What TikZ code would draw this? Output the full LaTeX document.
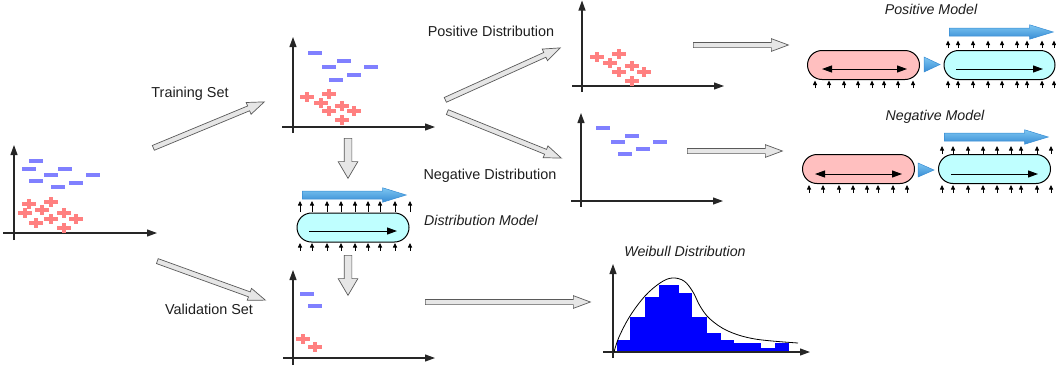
\documentclass[tikz,border=0pt]{standalone}
\usepackage{fontspec}
\setmainfont{Liberation Sans}
\usetikzlibrary{arrows.meta,shapes.arrows,shapes.misc,calc}
\definecolor{barblue}{RGB}{128,128,255}
\definecolor{plusred}{RGB}{255,128,128}
\definecolor{capcyan}{RGB}{191,255,255}
\definecolor{cappink}{RGB}{255,191,191}
\definecolor{arrblueL}{RGB}{125,198,242}
\definecolor{arrblueD}{RGB}{55,140,212}
\definecolor{blkfill}{RGB}{230,230,230}
\definecolor{blkdraw}{RGB}{90,90,90}
\definecolor{txt}{RGB}{30,30,30}
\tikzset{
 plotaxis/.style={draw=black!85, line width=1.1pt, -{Triangle[length=10pt,width=7pt]}},
 lbl/.style={font=\fontsize{14.4}{16}\selectfont, text=txt, inner sep=0pt},
 ilbl/.style={font=\fontsize{14.2}{16}\selectfont\itshape, text=txt, inner sep=0pt},
 blkthin/.style={single arrow, draw=blkdraw, fill=blkfill, line width=0.7pt, inner sep=0pt,
   text height=2.25pt, text depth=2.25pt, single arrow head extend=3.75pt, single arrow tip angle=41},
 blkfat/.style={single arrow, draw=blkdraw, fill=blkfill, line width=0.7pt, inner sep=0pt,
   text height=3.5pt, text depth=3.5pt, single arrow head extend=6pt, single arrow tip angle=61},
 blkblue/.style={single arrow, draw=arrblueD, top color=arrblueL, bottom color=arrblueD, line width=0.5pt, inner sep=0pt,
   text height=3.75pt, text depth=3.75pt, single arrow head extend=3.25pt, single arrow tip angle=34},
 capsule/.style={rounded rectangle, draw=black, line width=1pt, minimum width=112pt, minimum height=29pt, inner sep=0pt},
 inarr/.style={line width=1pt, -{Triangle[length=10pt,width=7pt]}},
 inarrtwo/.style={line width=1pt, {Triangle[length=10pt,width=7pt]}-{Triangle[length=10pt,width=7pt]}},
 uptick/.style={line width=0.8pt, -{Triangle[length=4.5pt,width=4pt]}},
 tri/.style={draw=arrblueD, top color=arrblueL, bottom color=arrblueD, line width=0.5pt},
 pminus/.pic={\fill[barblue] (-7,-2) rectangle (7,2);},
 pplus/.pic={\fill[plusred] (-7,-2.2) rectangle (7,2.2); \fill[plusred] (-2.2,-5.2) rectangle (2.2,5.2);},
}
\newcommand\blk[3]{\path let \p1=($(#3)-(#2)$), \n1={atan2(\y1,\x1)}, \n2={veclen(\x1,\y1)} in
  node[#1, anchor=tail, minimum height=\n2, rotate=\n1] at (#2) {};}
\begin{document}
\begin{tikzpicture}[x=1pt,y=-1pt]
\useasboundingbox (0,0) rectangle (1056,370);
% ---------- plot 1 (all data)
\draw[plotaxis] (3,233) -- (157,233);
\draw[plotaxis] (14,240) -- (14,145);
\foreach \x/\y in {36/161,29/169,65/169,51/175,93/175,36/181,76/183,58/187} \pic at (\x,\y) {pminus};
\foreach \x/\y in {29/204,51/202,25/213,42/210,64/213,36/223,51/219,76/219,64/228} \pic at (\x,\y) {pplus};
% ---------- plot 2 (training)
\draw[plotaxis] (282,127) -- (435,127);
\draw[plotaxis] (293,133) -- (293,37);
\foreach \x/\y in {315/53,329/67,344/61,371/67,354/75,336/80} \pic at (\x,\y) {pminus};
\foreach \x/\y in {307/97,329/94,321/103,342/106,329/111,354/111,342/120} \pic at (\x,\y) {pplus};
% ---------- positive plot
\draw[plotaxis] (572,86) -- (724,86);
\draw[plotaxis] (582,92) -- (582,0.5);
\foreach \x/\y in {597/57,619/54,610/63,632/66,619/72,644/72,632/81} \pic at (\x,\y) {pplus};
% ---------- negative plot
\draw[plotaxis] (571,201) -- (723,201);
\draw[plotaxis] (581,207) -- (581,113);
\foreach \x/\y in {603/128,632/136,618/142,660/142,643/149,625/154} \pic at (\x,\y) {pminus};
% ---------- validation plot
\draw[plotaxis] (283,358) -- (435,358);
\draw[plotaxis] (293,365) -- (293,270);
\foreach \x/\y in {307/294,315/306} \pic at (\x,\y) {pminus};
\foreach \x/\y in {303/339,315/347} \pic at (\x,\y) {pplus};
% ---------- weibull plot
\foreach \a/\b/\t in {617/630/340,630/645/317,645/659/297,659/679/285,679/692/293,692/707/317,707/721/333,721/734/340,734/761/343,761/775/348,775/789/343}
  \fill[blue] (\a,351.5) rectangle (\b,\t);
\draw[plotaxis] (603,352) -- (810,352);
\draw[plotaxis] (613,358) -- (613,264);
\draw[line width=0.8pt] plot[smooth,tension=0.6] coordinates {(614,352) (619,337) (630,316) (645,296) (660,283) (672,278) (684,281) (693,292) (700,306) (710,319) (728,331) (755,339) (798,343)};
% ---------- labels
\node[lbl] (trainlbl) at (190,94) {Training Set};
\node[lbl] (vallbl) at (209,309) {Validation Set};
\node[lbl] (poslbl) at (491,31) {Positive Distribution};
\node[lbl] (neglbl) at (490,176) {Negative Distribution};
\node[ilbl] (dmlbl) at (481,220) {Distribution Model};
\node[ilbl] (wblbl) at (685,251) {Weibull Distribution};
\node[ilbl] (pmlbl) at (931,9) {Positive Model};
\node[ilbl] (nmlbl) at (935,117) {Negative Model};
% ---------- block arrows
\coordinate (trainA) at (153,148); \coordinate (trainB) at (264,102);
\coordinate (valA) at (157,261);   \coordinate (valB) at (265,300);
\coordinate (posA) at (445,100);   \coordinate (posB) at (560,48);
\coordinate (negA) at (447,112);   \coordinate (negB) at (561,158);
\coordinate (dnA) at (348,138);    \coordinate (dnB) at (348,178);
\coordinate (dn2A) at (348,255);   \coordinate (dn2B) at (348,295);
\coordinate (wbA) at (425,302);    \coordinate (wbB) at (590,302);
\coordinate (pmA) at (693,45);     \coordinate (pmB) at (788,45);
\coordinate (nmA) at (687,151);    \coordinate (nmB) at (782,151);
\blk{blkthin}{trainA}{trainB}
\blk{blkthin}{valA}{valB}
\blk{blkthin}{posA}{posB}
\blk{blkthin}{negA}{negB}
\blk{blkfat}{dnA}{dnB}
\blk{blkfat}{dn2A}{dn2B}
\blk{blkthin}{wbA}{wbB}
\blk{blkthin}{pmA}{pmB}
\blk{blkthin}{nmA}{nmB}
% ---------- distribution model
\node[capsule, fill=capcyan] (dm) at (353,227.5) {};
\coordinate (dmL) at (309,231); \coordinate (dmR) at (397,231);
\draw[inarr] (dmL) -- (dmR);
\coordinate (dmbA) at (302,195); \coordinate (dmbB) at (406,195);
\blk{blkblue}{dmbA}{dmbB}
\foreach \x in {300,312,327,341,355,368,380,395,410} {
  \draw[uptick] (\x,212) -- (\x,201);
  \draw[uptick] (\x,250.5) -- (\x,243);
}
% ---------- positive model
\node[capsule, fill=cappink] (pmp) at (863.5,65) {};
\node[capsule, fill=capcyan, minimum width=111pt] (pmc) at (999.5,65) {};
\coordinate (pmpL) at (822,69); \coordinate (pmpR) at (907,69);
\draw[inarrtwo] (pmpL) -- (pmpR);
\coordinate (pmcL) at (956,69); \coordinate (pmcR) at (1043,69);
\draw[inarr] (pmcL) -- (pmcR);
\path[tri] (924,57) -- (940,64.5) -- (924,72) -- cycle;
\coordinate (pmbA) at (949,32); \coordinate (pmbB) at (1053,32);
\blk{blkblue}{pmbA}{pmbB}
\foreach \x in {815,829,844,858,872,884,898,913} \draw[uptick] (\x,88) -- (\x,80.5);
\foreach \x in {948,958,973,988,1002,1017,1027,1042,1054} {
  \draw[uptick] (\x,47.5) -- (\x,40.5);
  \draw[uptick] (\x,88) -- (\x,80.5);
}
% ---------- negative model
\node[capsule, fill=cappink] (nmp) at (858.5,169) {};
\node[capsule, fill=capcyan] (nmc) at (994.5,169) {};
\coordinate (nmpL) at (815,174); \coordinate (nmpR) at (902,174);
\draw[inarrtwo] (nmpL) -- (nmpR);
\coordinate (nmcL) at (951,174); \coordinate (nmcR) at (1038,174);
\draw[inarr] (nmcL) -- (nmcR);
\path[tri] (918,163) -- (934,170) -- (918,177) -- cycle;
\coordinate (nmbA) at (944,137); \coordinate (nmbB) at (1048,137);
\blk{blkblue}{nmbA}{nmbB}
\foreach \x in {809,823,839,853,867,878,893,907} \draw[uptick] (\x,193) -- (\x,185);
\foreach \x in {942,953,968,983,997,1011,1021,1037,1051} {
  \draw[uptick] (\x,154) -- (\x,146);
  \draw[uptick] (\x,193) -- (\x,185);
}
\end{tikzpicture}
\end{document}
